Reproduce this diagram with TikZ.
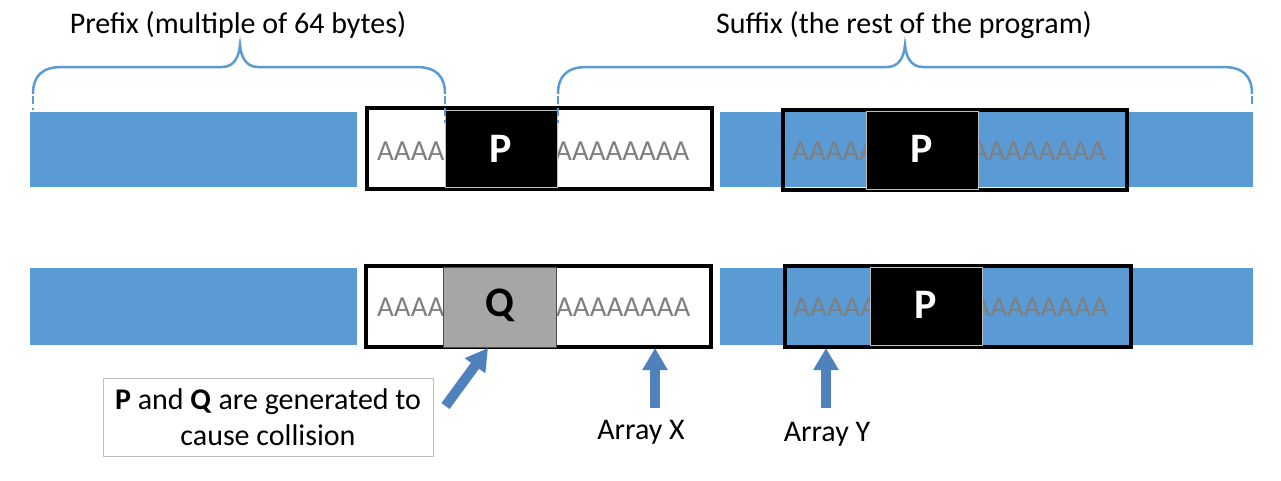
\documentclass[tikz,border=0pt]{standalone}
\usepackage{fontspec}
\setmainfont{Carlito}
\usetikzlibrary{arrows.meta}
\definecolor{barblue}{HTML}{5B9BD5}
\definecolor{arrblue}{HTML}{4F81BD}
\definecolor{arredge}{HTML}{41719C}
\definecolor{agray}{HTML}{7F7F7F}
\definecolor{qgray}{HTML}{A6A6A6}
\definecolor{boxgray}{HTML}{BFBFBF}
\tikzset{
  bar/.style={fill=barblue, draw=none},
  frame/.style={draw=black, line width=3.5pt},
  pbox/.style={fill=black, draw=boxgray, line width=0.8pt},
  qbox/.style={fill=qgray, draw=black!70, line width=0.8pt},
  atext/.style={text=agray, font=\fontsize{29}{32}\selectfont, inner sep=0pt},
  ptext/.style={text=white, font=\fontsize{42}{46}\selectfont\bfseries, inner sep=0pt},
  qtext/.style={text=black, font=\fontsize{42}{46}\selectfont\bfseries, inner sep=0pt},
  lbl/.style={font=\fontsize{30}{36}\selectfont, inner sep=0pt, align=center},
  brace/.style={draw=barblue, line width=2.5pt},
  bracedash/.style={draw=barblue, line width=2.5pt, dash pattern=on 8pt off 4pt},
  blockarr/.style={draw=arrblue, line width=10pt, -{Triangle[width=24pt,length=22pt]}},
}
\begin{document}
\begin{tikzpicture}[x=1pt,y=-1pt]
\useasboundingbox (0,0) rectangle (1281,480);
% ---- row 1 ----
\path[bar] (30,112) rectangle (357,187);
\path[bar] (720,112) rectangle (1253,187);
\draw[frame] (367,108) rectangle (712,189);
\draw[frame] (783,110) rectangle (1127,190);
\node[atext, anchor=west] (a1l) at (377,151) {AAAA};
\node[atext, anchor=west] (a1r) at (555,151) {AAAAAAAA};
\node[atext, anchor=west] (a2l) at (792,151) {AAAAA};
\node[atext, anchor=east] (a2r) at (1106,151) {AAAAAAAA};
\draw[pbox] (445,110) rectangle (557,187);
\node[ptext] (p1) at (501,149) {P};
\draw[pbox] (866,111) rectangle (978,189);
\node[ptext] (p2) at (922,149) {P};
% ---- row 2 ----
\path[bar] (30,268) rectangle (357,345);
\path[bar] (720,268) rectangle (1253,345);
\draw[frame] (366,266) rectangle (711,347);
\draw[frame] (785,266) rectangle (1131,347);
\node[atext, anchor=west] (b1l) at (377,307) {AAAA};
\node[atext, anchor=west] (b1r) at (556,307) {AAAAAAAA};
\node[atext, anchor=west] (b2l) at (793,307) {AAAAA};
\node[atext, anchor=east] (b2r) at (1108,307) {AAAAAAAA};
\draw[qbox] (443,267) rectangle (556,347);
\node[qtext] (q) at (500,305) {Q};
\draw[pbox] (870,267) rectangle (982,345);
\node[ptext] (p3) at (926,305) {P};
% ---- braces ----
\draw[brace] (33,94) .. controls (33,76) and (42,67) .. (62,67) -- (222,67)
  .. controls (234,67) and (239,57) .. (240,45)
  .. controls (241,57) and (246,67) .. (258,67) -- (416,67)
  .. controls (436,67) and (445,76) .. (445,94);
\draw[bracedash] (33,96) -- (33,110);
\draw[bracedash] (445,96) -- (445,123);
\draw[brace] (558,94) .. controls (558,76) and (567,67) .. (587,67) -- (887,67)
  .. controls (899,67) and (904,57) .. (905,45)
  .. controls (906,57) and (911,67) .. (923,67) -- (1223,67)
  .. controls (1243,67) and (1252,76) .. (1252,94);
\draw[bracedash] (558,96) -- (558,123);
\draw[bracedash] (1252,96) -- (1252,108);
\node[lbl] (prefix) at (238,25) {Prefix (multiple of 64 bytes)};
\node[lbl] (suffix) at (904,25) {Suffix (the rest of the program)};
% ---- annotations ----
\node[draw=boxgray, line width=1pt, minimum width=330pt, minimum height=78pt,
      font=\fontsize{30}{36}\selectfont, align=center, inner sep=0pt] (note) at (268,417)
  {\textbf{P} and \textbf{Q} are generated to\\cause collision};
\node[lbl] (arrx) at (641,432) {Array X};
\node[lbl] (arry) at (827,434) {Array Y};
\coordinate (qt) at (488,348);
\coordinate (xt) at (655,348);
\coordinate (yt) at (826,348);
\draw[blockarr] (note.east |- 0,406) ++(12,0) -- (qt);
\draw[blockarr] (655,408) -- (xt);
\draw[blockarr] (826,408) -- (yt);
\end{tikzpicture}
\end{document}
